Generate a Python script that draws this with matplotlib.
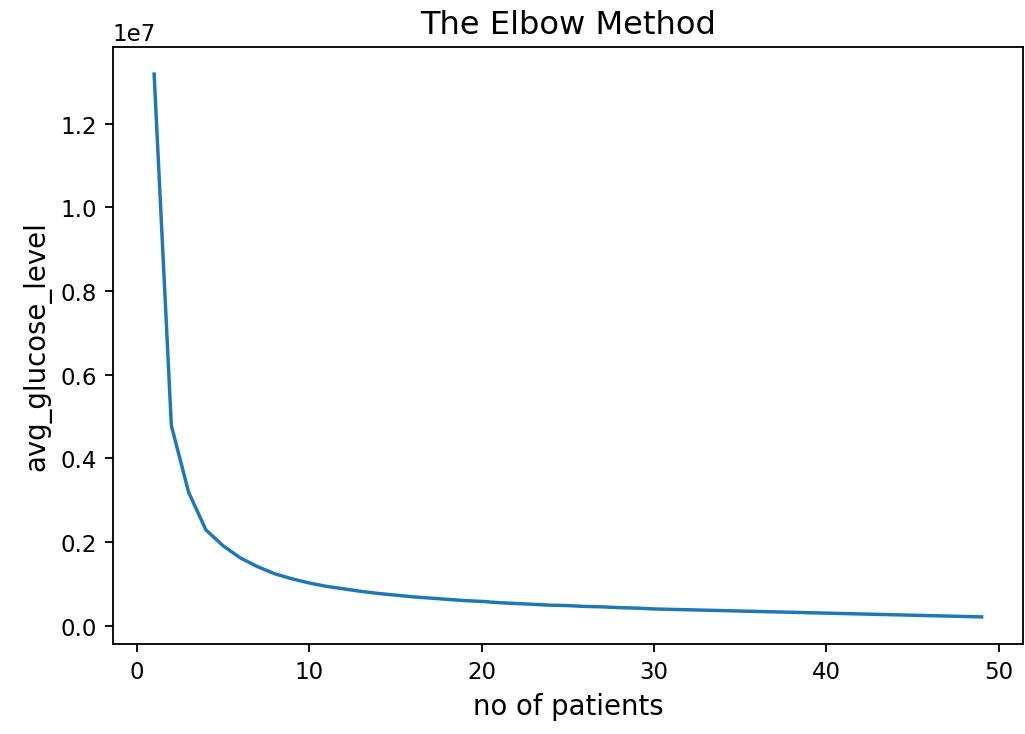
import numpy as np
import matplotlib
matplotlib.use("Agg")
import matplotlib.pyplot as plt

# Number of clusters tried (x axis)
n_clusters = list(range(1, 50))

# Within-cluster sum of squares for each k, in units of 1e7
wcss_1e7 = [
    1.318, 0.478, 0.319, 0.229, 0.191, 0.162, 0.141, 0.124, 0.112, 0.102,
    0.094, 0.088, 0.082, 0.077, 0.073, 0.069, 0.066, 0.063, 0.060, 0.058,
    0.055, 0.053, 0.051, 0.049, 0.048, 0.046, 0.045, 0.043, 0.042, 0.040,
    0.039, 0.038, 0.037, 0.036, 0.035, 0.034, 0.033, 0.032, 0.031, 0.030,
    0.029, 0.028, 0.027, 0.026, 0.025, 0.024, 0.023, 0.022, 0.021,
]

# Labels
title = "The Elbow Method"
x_label = "no of patients"
y_label = "avg_glucose_level"


def main():
    # Figure sized so that dpi * size gives 1025x735 pixels
    dpi = 165
    fig = plt.figure(figsize=(1025 / dpi, 735 / dpi), dpi=dpi)
    ax = fig.add_axes([0.110, 0.1224, 0.888, 0.8123])

    # Plot the elbow curve
    wcss = np.array(wcss_1e7) * 1e7
    ax.plot(n_clusters, wcss, color="#1f77b4", lw=1.5)

    # Title and axis labels
    ax.set_title(title, fontsize=14)
    ax.set_xlabel(x_label, fontsize=12)
    ax.set_ylabel(y_label, fontsize=12)

    fig.savefig("out.png", dpi=dpi)


main()
